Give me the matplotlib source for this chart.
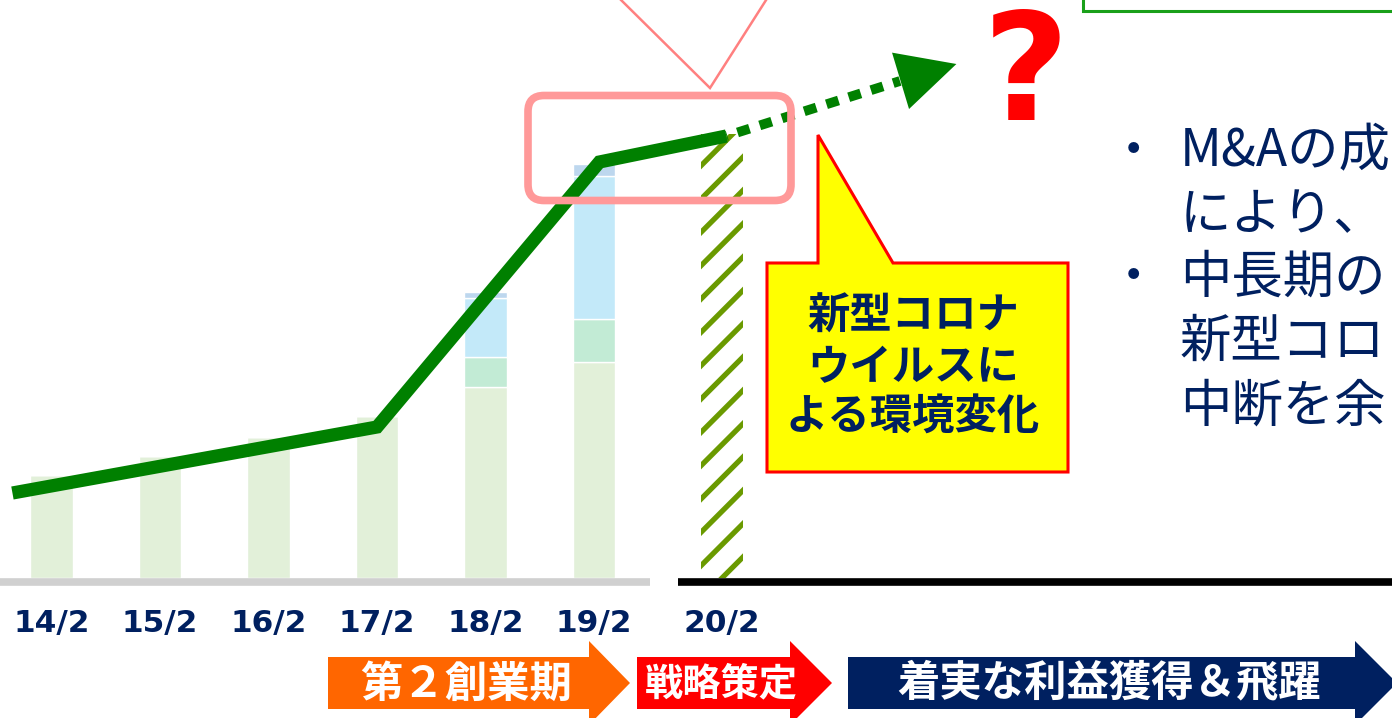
import matplotlib
matplotlib.use("Agg")
import matplotlib.pyplot as plt
from matplotlib.patches import Polygon, FancyBboxPatch, Rectangle

plt.rcParams['font.family'] = ['Noto Sans CJK JP', 'DejaVu Sans']
plt.rcParams['hatch.linewidth'] = 3.8

# ---------------- data ----------------
categories = ["14/2", "15/2", "16/2", "17/2", "18/2", "19/2", "20/2"]
cat_x = [0, 1, 2, 3, 4, 5, 6.18]
base_vals = [51.5, 61, 70.5, 81, 95.5, 108]          # light green segment
mint_vals = [0, 0, 0, 0, 15, 21.5]                   # mint segment
blue_vals = [0, 0, 0, 0, 29.5, 71.5]                 # light blue segment
top_vals = [0, 0, 0, 0, 3, 6]                        # thin top segment
plan_val = 222                                       # 20/2 hatched bar

line_x = [-0.36, 3.0, 5.05, 6.22]
line_y = [42.5, 75.5, 208, 221]
forecast_x = [6.22, 7.82, 8.34]
forecast_y = [221, 248.5, 257]

phase_labels = ["第２創業期", "戦略策定", "着実な利益獲得＆飛躍"]
callout_lines = ["新型コロナ", "ウイルスに", "よる環境変化"]
right_lines = ["M&Aの成", "により、", "中長期の", "新型コロ", "中断を余"]

NAVY = '#002060'

fig = plt.figure(figsize=(13.92, 7.18), dpi=100)
ax = fig.add_axes([0, 140 / 718, 1, 578 / 718])
ax.set_xlim(-51.5 / 108.5, (1392 - 51.5) / 108.5)
ax.set_ylim(0, 289)
for s in ax.spines.values():
    s.set_visible(False)
ax.set_yticks([])
ax.patch.set_alpha(0)

w = 0.39
xs = cat_x[:6]
b1 = base_vals
b2 = [a + b for a, b in zip(b1, mint_vals)]
b3 = [a + b for a, b in zip(b2, blue_vals)]
ax.bar(xs, base_vals, width=w, color='#E2F0D9', edgecolor='white', linewidth=1.0, zorder=1)
ax.bar(xs, mint_vals, bottom=b1, width=w, color='#C2EBD5', edgecolor='white', linewidth=1.0, zorder=1)
ax.bar(xs, blue_vals, bottom=b2, width=w, color='#C3E9F9', edgecolor='white', linewidth=1.0, zorder=1)
ax.bar(xs, top_vals, bottom=b3, width=w, color='#BDD7EE', edgecolor='white', linewidth=1.0, zorder=1)
ax.bar(cat_x[6], plan_val, width=0.38, color='white', edgecolor='#6A9A00', hatch='/', linewidth=0, zorder=1)

# baselines
x0, x1 = ax.get_xlim()
ax.plot([x0, (650 - 51.5) / 108.5], [-2, -2], color='#D0D0D0', lw=5.5, solid_capstyle='butt', clip_on=False)
ax.plot([(678 - 51.5) / 108.5, x1], [-2, -2], color='black', lw=5.5, solid_capstyle='butt', clip_on=False)

# main line
ax.plot(line_x, line_y, color='#008000', lw=9.5, solid_capstyle='butt', solid_joinstyle='miter', zorder=3)
# forecast dotted
ax.plot(forecast_x[:2], forecast_y[:2], color='#008000', lw=7, linestyle=(1.2, (1.3, 1.1)),
        dash_capstyle='butt', zorder=3)
ax.annotate('', xy=(forecast_x[2], forecast_y[2]), xytext=(forecast_x[1], forecast_y[1]),
            arrowprops=dict(arrowstyle='-|>,head_length=2.1,head_width=1.06', mutation_scale=20,
                            color='#008000', lw=0, shrinkA=0, shrinkB=0), zorder=3)

ax.set_xticks(cat_x, labels=categories)
ax.tick_params(axis='x', length=0, pad=22)
for lab in ax.get_xticklabels():
    lab.set_fontfamily('DejaVu Sans')
    lab.set_fontweight('bold')
    lab.set_fontsize(22.5)
    lab.set_color(NAVY)

# ---------------- overlay decorations ----------------
ov = fig.add_axes([0, 0, 1, 1])
ov.set_xlim(0, 1392)
ov.set_ylim(718, 0)
ov.axis('off')
ov.patch.set_alpha(0)

# pink V callout
ov.add_patch(Polygon([(618, -3), (710, 88), (768, -3)], closed=False, fill=False,
                     edgecolor='#FF8080', lw=1.8))
# pink rounded rectangle
ov.add_patch(FancyBboxPatch((528, 95.5), 263, 105, boxstyle='round,pad=0,rounding_size=16',
                            fill=False, edgecolor='#FF9999', lw=5.5, zorder=5))
# green box top right
ov.add_patch(Rectangle((1083, -20), 340, 31, fill=False, edgecolor='#1AA01A', lw=2.2))
# question mark
ov.text(1026, 120, '?', color='#FF0000', fontsize=107, fontweight='bold',
        family='DejaVu Sans', ha='center', va='baseline')

# yellow callout
ov.add_patch(Polygon([(767, 263), (818, 263), (818, 135), (893, 263), (1068, 263),
                      (1068, 472), (767, 472)], closed=True, facecolor='#FFFF00',
                     edgecolor='#FF0000', lw=2.2, joinstyle='miter'))
for yy, t in zip([317, 368, 418], callout_lines):
    ov.text(913, yy, t, color=NAVY, fontsize=30.5, fontweight='bold', ha='center', va='center')

# right side text
for yy in [152, 278]:
    ov.text(1133, yy, '・', color=NAVY, fontsize=37, ha='center', va='center')
for yy, t in zip([152, 215, 278, 342, 407], right_lines):
    ov.text(1180, yy, t, color=NAVY, fontsize=37, ha='left', va='center')

# phase arrows
def phase_arrow(x0, x1, tip, color):
    ov.add_patch(Polygon([(x0, 657), (x1, 657), (x1, 641), (tip, 683), (x1, 725),
                          (x1, 709), (x0, 709)], closed=True, facecolor=color,
                         edgecolor='none', clip_on=True))

phase_arrow(328, 589, 630, '#FF6600')
phase_arrow(637, 790, 832, '#FF0000')
phase_arrow(848, 1355, 1397, NAVY)
ov.text(466, 685, phase_labels[0], color='white', fontsize=30.5, fontweight='bold', ha='center', va='center')
ov.text(721, 684, phase_labels[1], color='white', fontsize=27.5, fontweight='bold', ha='center', va='center')
ov.text(1109, 684, phase_labels[2], color='white', fontsize=30.5, fontweight='bold', ha='center', va='center')

fig.savefig('out.png', dpi=100)
